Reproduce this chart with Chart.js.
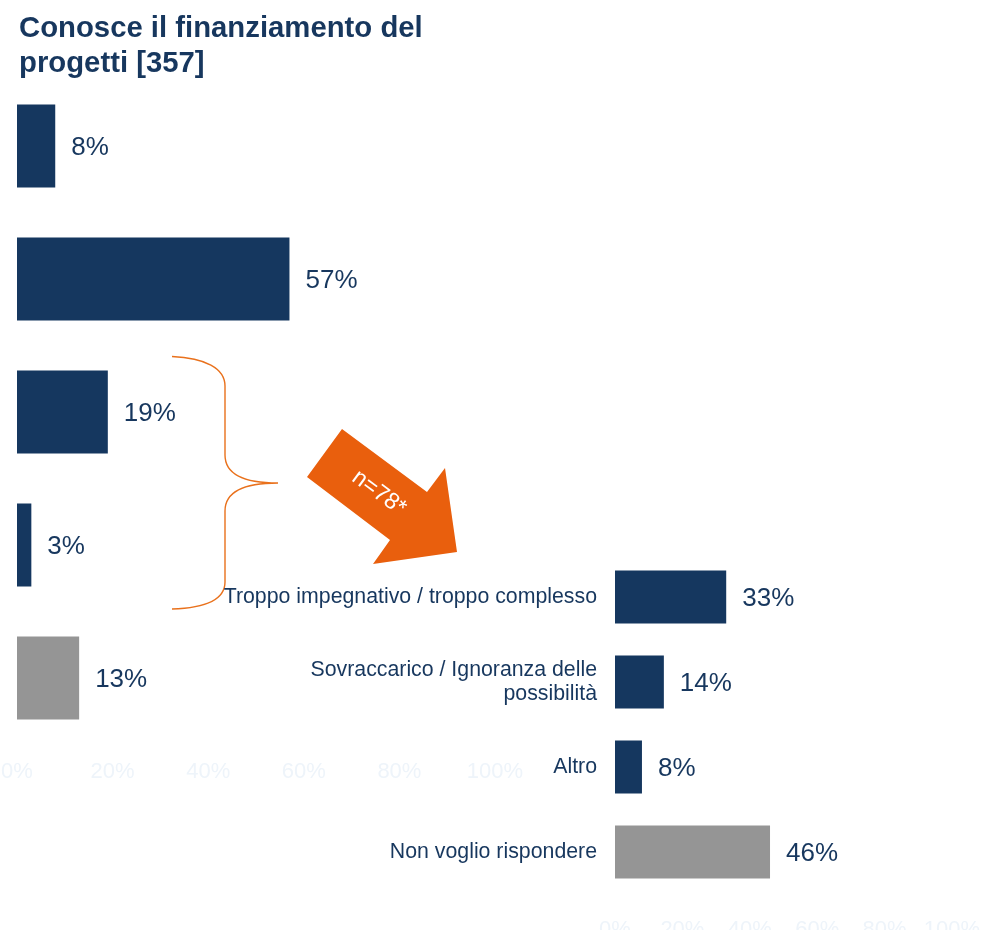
<!DOCTYPE html>
<html>
<head>
<meta charset="utf-8">
<script src="https://cdn.jsdelivr.net/npm/chart.js@4.4.1/dist/chart.umd.min.js"></script>
<style>
  html, body { margin: 0; padding: 0; background: #ffffff; width: 984px; height: 930px; overflow: hidden; }
  #wrap { position: relative; width: 984px; height: 930px; }
  canvas { position: absolute; left: 0; top: 0; }
  #title { position: absolute; left: 19px; top: 9px; font-family: "Liberation Sans", Arial, sans-serif; font-weight: bold; font-size: 29.3px; line-height: 35px; color: #17375e; margin: 0; }
</style>
</head>
<body>
<div id="wrap">
  <canvas id="left" width="984" height="960"></canvas>
  <canvas id="right" width="984" height="960"></canvas>
  <div id="title">Conosce il finanziamento del<br>progetti [357]</div>
</div>
<script>
// ---- data ----
const tickLabels = ['0%', '20%', '40%', '60%', '80%', '100%'];
const leftCategories = ['1', '2', '3', '4', '5'];
const leftValues = [8, 57, 19, 3, 13];
const leftValueLabels = ['8%', '57%', '19%', '3%', '13%'];
const rightCategories = [
  'Troppo impegnativo / troppo complesso',
  ['Sovraccarico / Ignoranza delle', 'possibilità'],
  'Altro',
  'Non voglio rispondere'
];
const rightValues = [33, 14.5, 8, 46];
const rightValueLabels = ['33%', '14%', '8%', '46%'];
const subsetLabel = 'n=78*';

const NAVY = '#15375f';
const GRAY = '#959595';
const ORANGE = '#e95f0d';
const FONT = '"Liberation Sans", Arial, sans-serif';

function colorsFor(n, grayIndex) {
  return Array.from({ length: n }, (_, i) => i === grayIndex ? GRAY : NAVY);
}

function valueLabelPlugin(labels) {
  return {
    id: 'valueLabels',
    afterDatasetsDraw(chart) {
      const ctx = chart.ctx;
      const meta = chart.getDatasetMeta(0);
      ctx.save();
      ctx.font = '26px ' + FONT;
      ctx.fillStyle = '#17375e';
      ctx.textAlign = 'left';
      ctx.textBaseline = 'middle';
      meta.data.forEach((bar, i) => {
        ctx.fillText(labels[i], bar.x + 16, bar.y + 2);
      });
      ctx.restore();
    }
  };
}

const decorPlugin = {
  id: 'decor',
  afterDraw(chart) {
    const ctx = chart.ctx;
    ctx.save();
    // brace
    ctx.strokeStyle = '#e9711c';
    ctx.lineWidth = 1.4;
    ctx.beginPath();
    ctx.moveTo(172, 356.5);
    ctx.bezierCurveTo(205, 358, 225, 368, 225, 386);
    ctx.lineTo(225, 455);
    ctx.bezierCurveTo(225, 475, 245, 483, 278, 483);
    ctx.bezierCurveTo(245, 483, 225, 491, 225, 511);
    ctx.lineTo(225, 582);
    ctx.bezierCurveTo(225, 600, 205, 608, 172, 609);
    ctx.stroke();
    // arrow
    ctx.fillStyle = ORANGE;
    ctx.beginPath();
    ctx.moveTo(342, 429);
    ctx.lineTo(427, 492);
    ctx.lineTo(445, 468);
    ctx.lineTo(457, 552);
    ctx.lineTo(373, 564);
    ctx.lineTo(390, 540);
    ctx.lineTo(307, 477);
    ctx.closePath();
    ctx.fill();
    // arrow text
    ctx.translate(379, 493);
    ctx.rotate(36.5 * Math.PI / 180);
    ctx.fillStyle = '#ffffff';
    ctx.font = '23px ' + FONT;
    ctx.textAlign = 'center';
    ctx.textBaseline = 'middle';
    ctx.fillText(subsetLabel, 0, 0);
    ctx.restore();
  }
};

const tickFont = { family: FONT, size: 22 };
const tickColor = '#eef4fa';
const noEdgePadding = (s) => { s.paddingLeft = 0; s.paddingRight = 0; };

new Chart(document.getElementById('left'), {
  type: 'bar',
  data: {
    labels: leftCategories,
    datasets: [{
      data: leftValues,
      backgroundColor: colorsFor(leftValues.length, 4),
      borderWidth: 0,
      categoryPercentage: 1,
      barPercentage: 0.625
    }]
  },
  options: {
    indexAxis: 'y',
    responsive: false,
    animation: false,
    events: [],
    layout: { padding: { left: 17, right: 489, top: 79.5, bottom: 0 } },
    plugins: { legend: { display: false }, tooltip: { enabled: false }, title: { display: false } },
    scales: {
      x: {
        min: 0, max: 100,
        grid: { display: false, drawTicks: false },
        border: { display: false },
        ticks: {
          stepSize: 20, padding: 14, color: tickColor, font: tickFont, maxRotation: 0, autoSkip: false,
          callback: (v) => tickLabels[Math.round(v / 20)]
        },
        afterFit: (s) => { s.height = 960 - 744.5; noEdgePadding(s); }
      },
      y: { display: false }
    }
  },
  plugins: [valueLabelPlugin(leftValueLabels), decorPlugin]
});

new Chart(document.getElementById('right'), {
  type: 'bar',
  data: {
    labels: rightCategories,
    datasets: [{
      data: rightValues,
      backgroundColor: colorsFor(rightValues.length, 3),
      borderWidth: 0,
      categoryPercentage: 1,
      barPercentage: 0.625
    }]
  },
  options: {
    indexAxis: 'y',
    responsive: false,
    animation: false,
    events: [],
    layout: { padding: { left: 0, right: 32, top: 554.5, bottom: 0 } },
    plugins: { legend: { display: false }, tooltip: { enabled: false }, title: { display: false } },
    scales: {
      x: {
        min: 0, max: 100,
        grid: { display: false, drawTicks: false },
        border: { display: false },
        ticks: {
          stepSize: 20, padding: 22, color: tickColor, font: tickFont, maxRotation: 0, autoSkip: false,
          callback: (v) => tickLabels[Math.round(v / 20)]
        },
        afterFit: (s) => { s.height = 960 - 894.5; noEdgePadding(s); }
      },
      y: {
        grid: { display: false, drawTicks: false },
        border: { display: false },
        ticks: { color: '#17375e', font: { family: FONT, size: 21.3, lineHeight: 1.15 }, padding: 18, autoSkip: false },
        afterFit: (s) => { s.width = 615; s.paddingTop = 0; s.paddingBottom = 0; }
      }
    }
  },
  plugins: [valueLabelPlugin(rightValueLabels)]
});
</script>
</body>
</html>
